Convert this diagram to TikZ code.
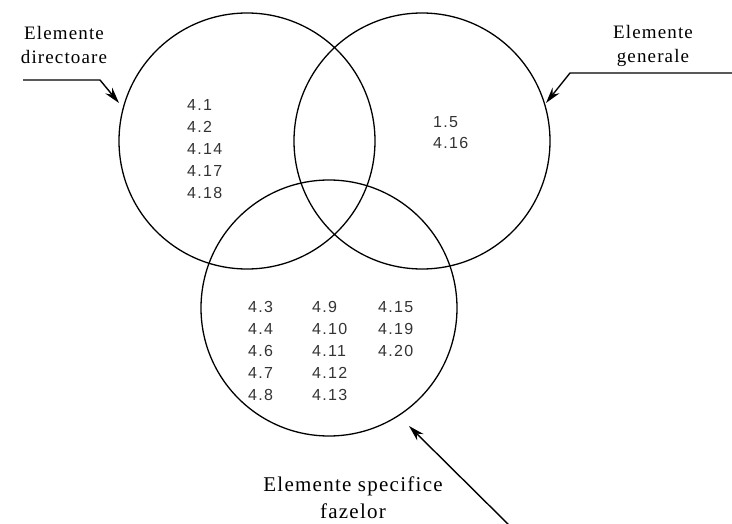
\documentclass[tikz,border=0pt]{standalone}
\usepackage{fontspec}
\setmainfont{Liberation Serif}
\newfontfamily\numfont[LetterSpace=8]{Liberation Sans}
\newfontfamily\labfont[LetterSpace=6]{Liberation Serif}
\usetikzlibrary{arrows.meta}
\begin{document}
\begin{tikzpicture}[x=1pt,y=-1pt,
  ring/.style={draw, circle, line width=1.3pt, minimum size=256pt, inner sep=0pt},
  num/.style={anchor=west, inner sep=0pt, font=\numfont\fontsize{16}{16}\selectfont, text=black!80},
  lab/.style={align=center, inner sep=0pt, font=\labfont\fontsize{19}{24}\selectfont},
  blab/.style={align=center, inner sep=0pt, font=\labfont\fontsize{21}{27}\selectfont},
  ptr/.style={line width=1.4pt, -{Stealth[length=16pt,width=9pt]}}]
\useasboundingbox (0,0) rectangle (732,524);
% circles
\node[ring] (L) at (247,141) {};
\node[ring] (R) at (422,141) {};
\node[ring, minimum size=256pt] (B) at (329,308) {};
% left group
\foreach \t [count=\i] in {4.1,4.2,4.14,4.17,4.18}
  \node[num] (l\i) at (187,{105+22*(\i-1)}) {\t};
% right group
\node[num] (r1) at (433,122) {1.5};
\node[num] (r2) at (433,143) {4.16};
% bottom group
\foreach \t [count=\i] in {4.3,4.4,4.6,4.7,4.8}
  \node[num] (a\i) at (248,{307+22*(\i-1)}) {\t};
\foreach \t [count=\i] in {4.9,4.10,4.11,4.12,4.13}
  \node[num] (b\i) at (312,{307+22*(\i-1)}) {\t};
\foreach \t [count=\i] in {4.15,4.19,4.20}
  \node[num] (c\i) at (378,{307+22*(\i-1)}) {\t};
% labels
\node[lab] (tL) at (64,45) {Elemente\\directoare};
\node[lab] (tR) at (653,46) {Elemente\\generale};
\node[blab] (tB) at (353,498) {Elemente specifice\\fazelor};
% pointers
\coordinate (pL0) at (23,80);
\coordinate (pL1) at (100,80);
\coordinate (pLt) at (119,103);
\coordinate (pR0) at (735,73);
\coordinate (pR1) at (570,73);
\coordinate (pRt) at (546,103);
\coordinate (pB0) at (515,531);
\coordinate (pBt) at (409,426);
\draw[ptr] (pL0) -- (pL1) -- (pLt);
\draw[ptr] (pR0) -- (pR1) -- (pRt);
\draw[ptr] (pB0) -- (pBt);
\end{tikzpicture}
\end{document}
